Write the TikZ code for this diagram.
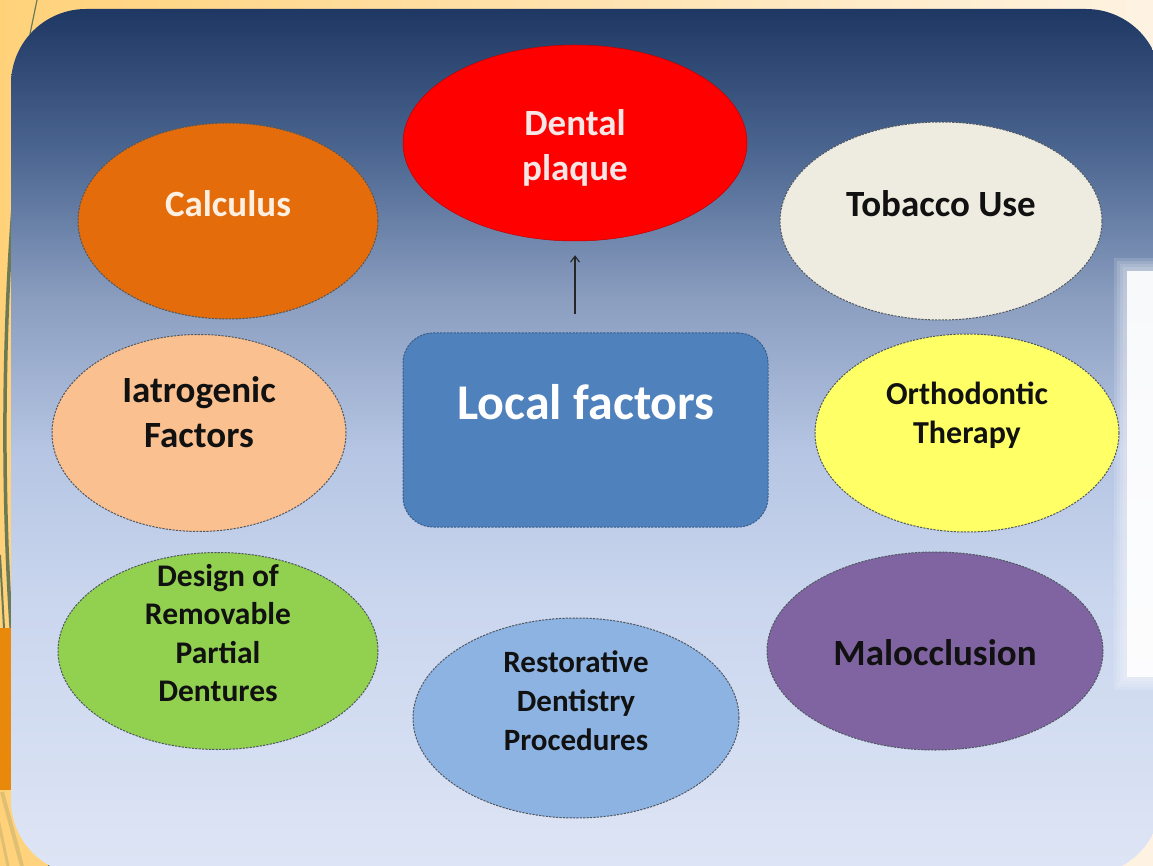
\documentclass[tikz,border=0pt]{standalone}
\usepackage{fontspec}
\setmainfont{Carlito}
\usetikzlibrary{shapes.geometric,arrows.meta}
\definecolor{bgl}{HTML}{FFD27A}
\definecolor{bgr}{HTML}{FEF3E2}
\definecolor{pb0}{HTML}{1E3863}
\definecolor{pb1}{HTML}{4A6590}
\definecolor{pb2}{HTML}{8B9EC0}
\definecolor{pb3}{HTML}{B5C5E3}
\definecolor{pb4}{HTML}{CAD6EE}
\definecolor{pb5}{HTML}{DEE5F5}
\definecolor{decgreen}{HTML}{6B7A55}
\definecolor{decorange}{HTML}{E8890C}
\definecolor{dectan}{HTML}{E0BE72}
\definecolor{edgegray}{HTML}{505862}
\definecolor{cCalc}{HTML}{E46C0A}
\definecolor{cRed}{HTML}{FF0000}
\definecolor{cTob}{HTML}{EEECE1}
\definecolor{cIat}{HTML}{FAC090}
\definecolor{cLocal}{HTML}{4F81BD}
\definecolor{cLocalEdge}{HTML}{385D8A}
\definecolor{cOrtho}{HTML}{FFFF66}
\definecolor{cGreen}{HTML}{92D050}
\definecolor{cRest}{HTML}{8DB3E2}
\definecolor{cPurple}{HTML}{8064A2}
\definecolor{calctext}{HTML}{FDF0E2}
\definecolor{plaquetext}{HTML}{F6E6E6}
\definecolor{darktext}{HTML}{111111}
\pgfdeclareverticalshading{panelshade}{100bp}{color(0bp)=(pb5); color(25bp)=(pb5); color(40.9bp)=(pb4); color(49.5bp)=(pb3); color(58.2bp)=(pb2); color(66.9bp)=(pb1); color(75bp)=(pb0); color(100bp)=(pb0)}
\begin{document}
\begin{tikzpicture}[x=1pt,y=-1pt,
  ell/.style={ellipse, inner sep=0pt, draw=edgegray, dash pattern=on 2.2pt off 1.2pt, line width=1pt},
  lbl/.style={font=\bfseries\fontsize{37}{45}\selectfont, align=center, inner sep=0pt, text=darktext},
  lblsmall/.style={font=\bfseries\fontsize{31.5}{38.5}\selectfont, align=center, inner sep=0pt, text=darktext},
  lblbig/.style={font=\bfseries\fontsize{50}{60}\selectfont, align=center, inner sep=0pt, text=white},
  halo/.style={fill=white, opacity=0.14}]
\useasboundingbox (0,0) rectangle (1153,866);
% slide background
\shade[left color=bgl, right color=bgr] (0,0) rectangle (1153,866);
% left decorations
\draw[decgreen, line width=1.2pt] (37,0) -- (30,34);
\draw[decgreen, line width=3.5pt] (16,170) .. controls (2,330) and (2,500) .. (12,640);
\draw[decgreen, line width=2pt] (0,555) -- (4,628);
\fill[decorange] (0,628) rectangle (12,790);
\draw[dectan, line width=4pt] (2,792) -- (22,866);
\draw[dectan, line width=3pt] (-6,800) -- (8,866);
\fill[decgreen] (48,862) rectangle (60,866);
% panel
\shade[shading=panelshade, rounded corners=75pt] (11,9) rectangle (1161,875);
% soft white panel at right
\fill[halo] (1114,258) rectangle (1160,690);
\fill[halo] (1117,261) rectangle (1160,687);
\fill[halo] (1120,264) rectangle (1160,684);
\fill[halo] (1123,267) rectangle (1160,681);
\fill[white, opacity=0.9] (1127,271) rectangle (1160,677);
% shapes
\node[ell, fill=cCalc, minimum width=300pt, minimum height=196pt] (calc) at (228,221) {};
\node[lbl, text=calctext] (calcT) at (228,204) {Calculus};
\node[ellipse, inner sep=0pt, fill=cRed, draw=red!75!black, line width=0.5pt, minimum width=344pt, minimum height=196pt] (plaque) at (575,143) {};
\node[lbl, text=plaquetext] (plaqueT) at (575,148) {Dental\\plaque};
\node[ell, fill=cTob, minimum width=322pt, minimum height=198pt] (tob) at (941,221) {};
\node[lbl] (tobT) at (941,204) {Tobacco Use};
\node[ell, fill=cIat, minimum width=294pt, minimum height=197pt] (iat) at (199,433) {};
\node[lbl] (iatT) at (199,412) {Iatrogenic\\Factors};
\node[rectangle, rounded corners=30pt, fill=cLocal, draw=cLocalEdge, dash pattern=on 2.2pt off 1.2pt, line width=1pt, minimum width=365pt, minimum height=194pt, inner sep=0pt] (local) at (585.5,430) {};
\node[lblbig] (localT) at (586,402) {Local factors};
\node[ell, fill=cOrtho, minimum width=304pt, minimum height=198pt] (ortho) at (967,433) {};
\node[lblsmall, font=\bfseries\fontsize{32}{39}\selectfont] (orthoT) at (967,415) {Orthodontic\\Therapy};
\node[ell, fill=cGreen, minimum width=320pt, minimum height=197pt] (rpd) at (218,651) {};
\node[lblsmall] (rpdT) at (218,633) {Design of\\Removable\\Partial\\Dentures};
\node[ell, fill=cRest, minimum width=326pt, minimum height=200pt] (rest) at (576,718) {};
\node[lblsmall, font=\bfseries\fontsize{31}{39}\selectfont] (restT) at (576,701) {Restorative\\Dentistry\\Procedures};
\node[ell, fill=cPurple, minimum width=336pt, minimum height=198pt] (maloc) at (935,651) {};
\node[lbl] (malocT) at (935,653) {Malocclusion};
% arrow
\draw[-{Straight Barb[length=6pt,width=9pt]}, line width=1.1pt, black!85, shorten <=18pt, shorten >=14pt] (plaque.south |- local.north) -- (plaque.south);
\end{tikzpicture}
\end{document}
